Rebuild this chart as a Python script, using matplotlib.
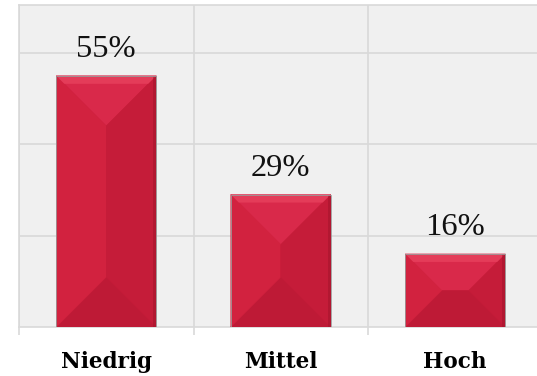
import matplotlib.pyplot as plt
from matplotlib.patches import Polygon, Rectangle

categories = ["Niedrig", "Mittel", "Hoch"]
values = [55, 29, 16]
labels = ["55%", "29%", "16%"]

BAR_WIDTH = 0.573
GRID = "#d9d9d9"


def bevel_bar(ax, xc, h, w, ratio):
    # pyramid-style bevel: 4 faces split along 45 degree mitres
    x0, x1 = xc - w / 2, xc + w / 2
    m = min(w / 2, (h / 2) / ratio)
    dy = m * ratio
    faces = [
        ([(x0, h), (x1, h), (x1 - m, h - dy), (x0 + m, h - dy)], "#d9294a"),
        ([(x0, 0), (x1, 0), (x1 - m, dy), (x0 + m, dy)], "#be1a36"),
        ([(x0, 0), (x0 + m, dy), (x0 + m, h - dy), (x0, h)], "#d2223f"),
        ([(x1, 0), (x1 - m, dy), (x1 - m, h - dy), (x1, h)], "#c51c39"),
    ]
    for pts, col in faces:
        ax.add_patch(Polygon(pts, closed=True, facecolor=col, edgecolor=col,
                             lw=0.3, zorder=3))
    # light band on top edge, dark strip on right edge
    band = 8 / 4.57
    ax.add_patch(Polygon([(x0, h), (x1, h), (x1 - band / ratio, h - band),
                          (x0 + band / ratio, h - band)],
                         closed=True, facecolor="#e9435f", edgecolor="none",
                         alpha=0.75, zorder=4))
    ax.add_patch(Rectangle((x1 - 0.018, 0), 0.018, h, facecolor="#a1132b",
                           edgecolor="none", alpha=0.5, zorder=4))
    ax.add_patch(Rectangle((x0, 0), w, h, facecolor="none",
                           edgecolor="#9a9a9a", lw=0.6, zorder=5))


def main():
    fig = plt.figure(figsize=(5.37, 3.76), dpi=100)
    ax = fig.add_axes([19 / 537, 49 / 376, 523.5 / 537, 322 / 376])
    ax.set_facecolor("#f0f0f0")

    x = list(range(len(categories)))
    ax.set_xlim(-0.5, len(categories) - 0.5)
    ax.set_ylim(0, 70.5)

    ax.set_yticks([20, 40, 60])
    ax.tick_params(axis="y", length=0, labelleft=False)
    ax.yaxis.grid(True, color=GRID, lw=1.2)

    ax.set_xticks(x)
    ax.set_xticklabels(categories, fontfamily="DejaVu Serif",
                       fontweight="bold", fontsize=15.5)
    ax.tick_params(axis="x", which="major", length=0, pad=17.5)
    ax.set_xticks([i - 0.5 for i in range(len(categories) + 1)], minor=True)
    ax.tick_params(axis="x", which="minor", length=5.8, width=1.2,
                   color=GRID, direction="out")
    ax.xaxis.grid(True, which="minor", color=GRID, lw=1.2)
    ax.set_axisbelow(True)

    for s in ax.spines.values():
        s.set_color(GRID)
        s.set_linewidth(1.2)

    fig.canvas.draw()
    p0 = ax.transData.transform((0, 0))
    p1 = ax.transData.transform((1, 1))
    ratio = (p1[0] - p0[0]) / (p1[1] - p0[1])

    bars = ax.bar(x, values, width=BAR_WIDTH, color="#c81c3a", zorder=2)
    for b, v, lab in zip(bars, values, labels):
        xc = b.get_x() + b.get_width() / 2
        bevel_bar(ax, xc, v, b.get_width(), ratio)
        ax.annotate(lab, (xc, v), xytext=(0, 13.7), textcoords="offset points",
                    ha="center", va="baseline", fontfamily="Liberation Serif",
                    fontsize=23.4, color="#111111")

    fig.savefig("out.png", dpi=100)


if __name__ == "__main__":
    main()
